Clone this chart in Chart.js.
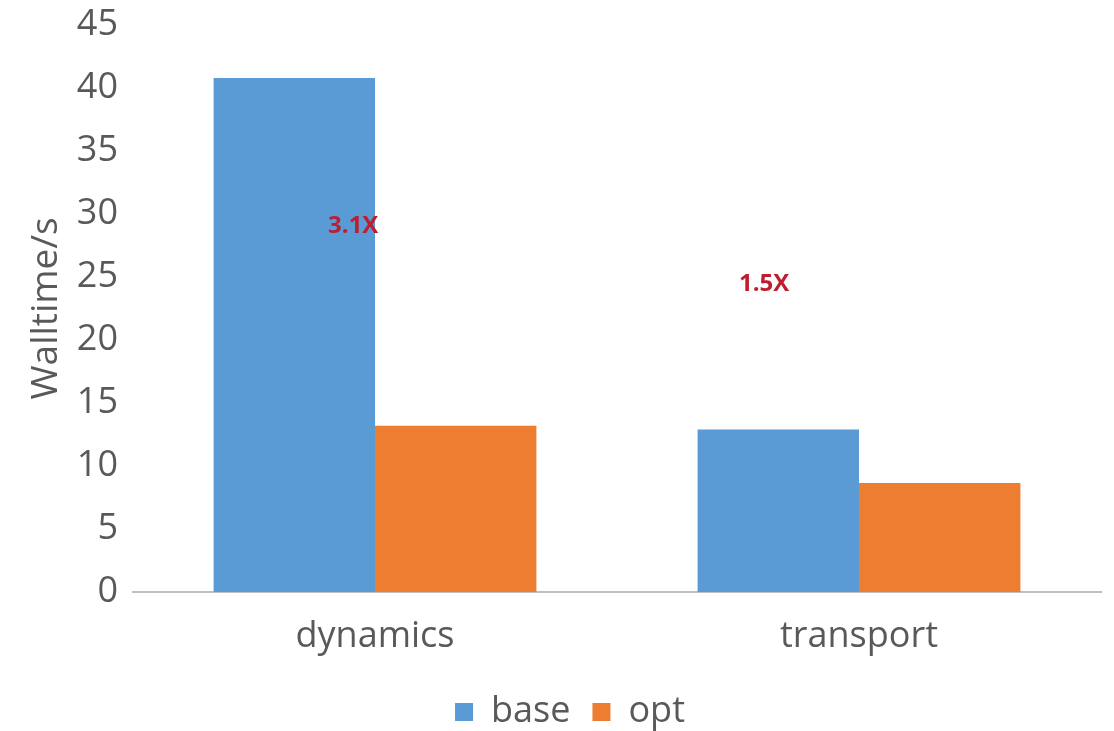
<!DOCTYPE html>
<html>
<head>
<meta charset="utf-8">
<script src="https://cdn.jsdelivr.net/npm/chart.js@4/dist/chart.umd.min.js"></script>
<style>
  html, body { margin: 0; padding: 0; background: #ffffff; }
  #wrap { width: 1114px; height: 731px; }
</style>
</head>
<body>
<div id="wrap"><canvas id="chart" width="1114" height="731"></canvas></div>
<script>
// Walltime per phase, before and after optimisation
const categories = ['dynamics', 'transport'];
const seriesNames = ['base', 'opt'];
const baseValues = [40.8, 12.9];
const optValues = [13.2, 8.65];
const yTicks = [0, 5, 10, 15, 20, 25, 30, 35, 40, 45];

// Speed-up labels: text, category position (fractional index), value height
const speedupText = ['3.1X', '1.5X'];
const speedupAt = [-0.045, 0.804];
const speedupY = [29.05, 24.45];

const FONT = '"Open Sans", "DejaVu Sans", sans-serif';
const TEXT = '#595959';

const speedupPlugin = {
  id: 'speedups',
  afterDatasetsDraw(chart) {
    const { ctx, scales } = chart;
    ctx.save();
    ctx.font = 'bold 24px ' + FONT;
    ctx.fillStyle = '#BE1E2D';
    ctx.textAlign = 'center';
    ctx.textBaseline = 'middle';
    speedupText.forEach((t, i) => {
      const x = scales.x.getPixelForValue(speedupAt[i]);
      const y = scales.y.getPixelForValue(speedupY[i]);
      ctx.fillText(t, x, y);
    });
    ctx.restore();
  }
};

new Chart(document.getElementById('chart'), {
  type: 'bar',
  data: {
    labels: categories,
    datasets: [
      { label: seriesNames[0], data: baseValues, backgroundColor: '#5B9BD5', borderWidth: 0 },
      { label: seriesNames[1], data: optValues, backgroundColor: '#ED7D31', borderWidth: 0 }
    ]
  },
  options: {
    responsive: false,
    animation: false,
    layout: { padding: { top: 23, right: 13, bottom: -9, left: 39 } },
    datasets: { bar: { barPercentage: 1.0, categoryPercentage: 0.667 } },
    plugins: {
      legend: {
        position: 'bottom',
        labels: {
          color: TEXT,
          font: { family: FONT, size: 36 },
          boxWidth: 18,
          boxHeight: 18,
          padding: 22
        }
      },
      tooltip: { enabled: false }
    },
    scales: {
      x: {
        grid: { display: false },
        border: { display: true, color: '#bfbfbf', width: 2 },
        ticks: { color: TEXT, font: { family: FONT, size: 36 }, padding: 15 },
        afterFit(scale) { scale.height = 80; }
      },
      y: {
        min: 0,
        max: 45,
        afterBuildTicks(scale) { scale.ticks = yTicks.map(v => ({ value: v })); },
        afterFit(scale) { scale.width = 94; },
        grid: { display: false },
        border: { display: false },
        ticks: { color: TEXT, font: { family: FONT, size: 36, lineHeight: 1.0 }, padding: 7 },
        title: {
          display: true,
          text: 'Walltime/s',
          color: TEXT,
          font: { family: FONT, size: 37 },
          padding: { top: -15, bottom: 0 }
        }
      }
    }
  },
  plugins: [speedupPlugin]
});
</script>
</body>
</html>
